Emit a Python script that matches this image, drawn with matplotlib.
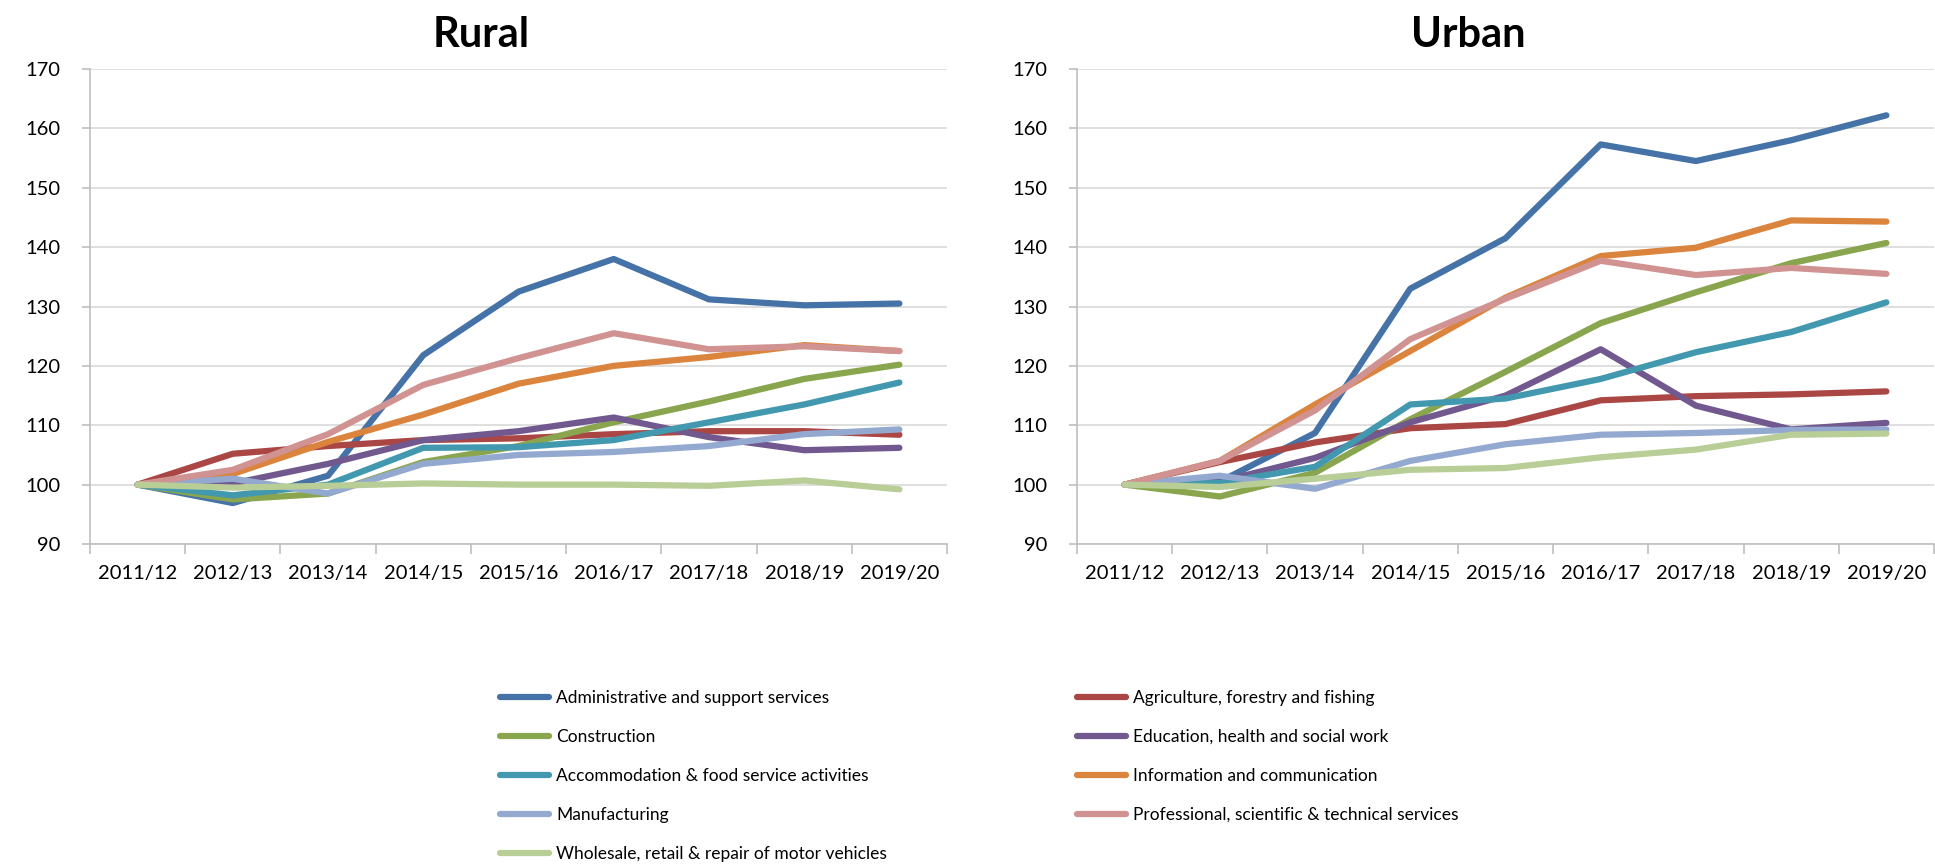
# Rural vs urban index by sector, 2011/12 = 100

import numpy as np
import matplotlib
matplotlib.use('Agg')
import matplotlib.pyplot as plt

plt.rcParams['font.family'] = ['Lato', 'DejaVu Sans']

years = ['2011/12', '2012/13', '2013/14', '2014/15', '2015/16',
         '2016/17', '2017/18', '2018/19', '2019/20']

sectors = ['Administrative and support services',
           'Agriculture, forestry and fishing',
           'Construction',
           'Education, health and social work',
           'Accommodation & food service activities',
           'Information and communication',
           'Manufacturing',
           'Professional, scientific & technical services',
           'Wholesale, retail & repair of motor vehicles']

colors = ['#4572A7', '#AA4643', '#89A54E', '#71588F', '#4198AF',
          '#DB843D', '#93A9CF', '#D19392', '#B9CD96']

rural = {
    'Administrative and support services': [100, 96.9, 101.5, 121.8, 132.5, 138.0, 131.2, 130.2, 130.5],
    'Agriculture, forestry and fishing': [100, 105.2, 106.5, 107.5, 107.8, 108.5, 109.0, 109.0, 108.4],
    'Construction': [100, 97.5, 98.5, 103.8, 106.5, 110.5, 114.0, 117.8, 120.2],
    'Education, health and social work': [100, 100.2, 103.5, 107.5, 109.0, 111.3, 108.0, 105.8, 106.2],
    'Accommodation & food service activities': [100, 98.2, 100.0, 106.2, 106.3, 107.5, 110.5, 113.5, 117.2],
    'Information and communication': [100, 101.8, 107.2, 111.8, 117.0, 120.0, 121.5, 123.5, 122.5],
    'Manufacturing': [100, 101.0, 98.5, 103.5, 105.0, 105.5, 106.5, 108.5, 109.3],
    'Professional, scientific & technical services': [100, 102.5, 108.5, 116.8, 121.3, 125.5, 122.8, 123.3, 122.5],
    'Wholesale, retail & repair of motor vehicles': [100, 99.5, 99.8, 100.2, 100.0, 100.0, 99.8, 100.7, 99.2],
}

urban = {
    'Administrative and support services': [100, 100.5, 108.7, 133.0, 141.5, 157.3, 154.5, 158.0, 162.2],
    'Agriculture, forestry and fishing': [100, 103.8, 107.1, 109.5, 110.2, 114.2, 114.9, 115.2, 115.7],
    'Construction': [100, 98.0, 102.0, 111.0, 119.0, 127.2, 132.4, 137.3, 140.7],
    'Education, health and social work': [100, 100.5, 104.5, 110.5, 115.0, 122.8, 113.3, 109.3, 110.4],
    'Accommodation & food service activities': [100, 100.3, 103.0, 113.5, 114.5, 117.8, 122.3, 125.7, 130.7],
    'Information and communication': [100, 104.0, 113.5, 122.5, 131.5, 138.5, 139.9, 144.5, 144.3],
    'Manufacturing': [100, 101.5, 99.3, 104.0, 106.8, 108.4, 108.7, 109.2, 109.3],
    'Professional, scientific & technical services': [100, 104.0, 112.5, 124.5, 131.3, 137.7, 135.3, 136.5, 135.5],
    'Wholesale, retail & repair of motor vehicles': [100, 99.6, 101.0, 102.5, 102.8, 104.6, 105.9, 108.4, 108.6],
}

fig = plt.figure(figsize=(19.35, 8.65), dpi=100)
ax1 = fig.add_axes([90/1935, 1-544/865, (947-90)/1935, (544-69)/865])
ax2 = fig.add_axes([1077/1935, 1-544/865, (1934-1077)/1935, (544-69)/865])

x = np.arange(len(years))
lines = {}
for ax, data in [(ax1, rural), (ax2, urban)]:
    for name, col in zip(sectors, colors):
        ln, = ax.plot(x, data[name], color=col, lw=4.5, solid_capstyle='round',
                      solid_joinstyle='round', label=name)
        lines[name] = ln
    ax.set_ylim(90, 170)
    ax.set_yticks(range(90, 171, 10))
    ax.set_xlim(-0.5, 8.5)
    ax.set_xticks(x)
    ax.set_xticklabels(years)
    ax.set_xticks(np.arange(-0.5, 9), minor=True)
    ax.grid(axis='y', color='#D9D9D9', lw=1.2)
    ax.set_axisbelow(True)
    for s in ['top', 'right']:
        ax.spines[s].set_visible(False)
    for s in ['left', 'bottom']:
        ax.spines[s].set_color('#BFBFBF')
        ax.spines[s].set_linewidth(1.2)
    ax.tick_params(axis='x', which='major', length=0, pad=15, labelsize=14.5)
    ax.tick_params(axis='x', which='minor', length=7, color='#BFBFBF', width=1.2)
    ax.tick_params(axis='y', length=6, color='#BFBFBF', width=1.2, pad=15, labelsize=14.5)

fig.text(481/1935, 1-35/865, 'Rural', ha='center', va='center',
         fontsize=30, fontweight='bold')
fig.text(1468/1935, 1-35/865, 'Urban', ha='center', va='center',
         fontsize=30, fontweight='bold')

col1 = [sectors[i] for i in (0, 2, 4, 6, 8)]
col2 = [sectors[i] for i in (1, 3, 5, 7)]
for names, xpos in [(col1, 500/1935), (col2, 1077/1935)]:
    leg = fig.legend([lines[n] for n in names], names, loc='upper left',
                     bbox_to_anchor=(xpos, 1-690/865), frameon=False,
                     fontsize=12.5, handlelength=2.8, handletextpad=0.45,
                     labelspacing=1.32, borderpad=0, borderaxespad=0)

fig.savefig('out.png', dpi=100)
